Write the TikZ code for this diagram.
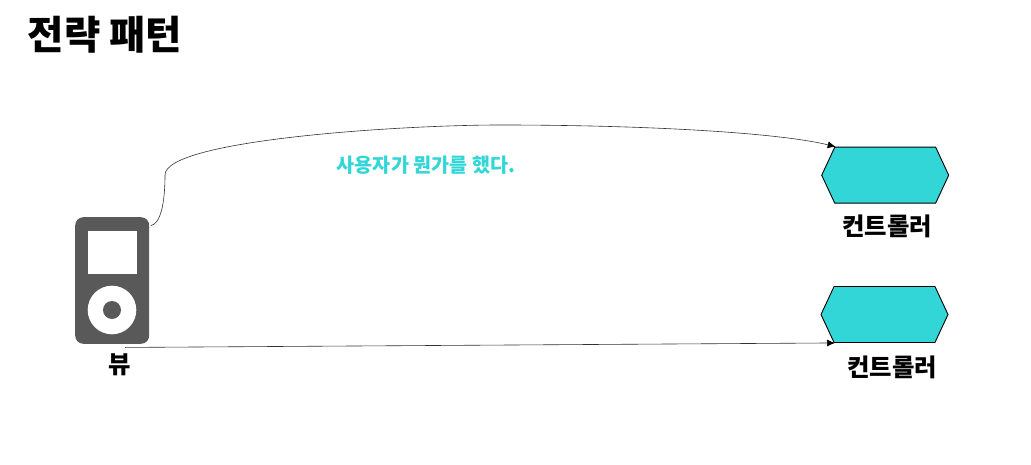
\documentclass[tikz,border=0pt]{standalone}
\usepackage{fontspec}
\setmainfont{Noto Sans CJK KR}
\usetikzlibrary{arrows.meta,shapes,shapes.symbols,positioning}
\definecolor{hexcyan}{HTML}{33D6D6}
\definecolor{playergray}{HTML}{595959}
\begin{document}
\begin{tikzpicture}[x=1pt,y=-1pt]
      \tikzstyle{controller}=[draw=black,line width=0.9pt,fill=hexcyan,signal,signal to=west and east,signal pointer angle=130,minimum width=127pt,minimum height=56pt,inner sep=0pt]
      \tikzstyle{caption}=[font=\bfseries\fontsize{24.4}{28}\selectfont,text=black]
      \tikzstyle{call}=[-{Latex[length=8pt,width=7pt,color=black]},black!80,line width=0.6pt]

      \useasboundingbox (0,0) rectangle (1031,465);

      \node (title) at (105,35) [font=\bfseries\fontsize{39.5}{44}\selectfont] {전략 패턴};

      % player
      \node (view) at (112.2,280.5) [fill=playergray,rounded corners=8pt,minimum width=74pt,minimum height=126.5pt,inner sep=0pt] {};
      \node (screen) at (112,252.2) [fill=white,minimum width=49pt,minimum height=43pt,inner sep=0pt] {};
      \node (wheel) at (112,310) [circle,fill=white,minimum size=48.6pt,inner sep=0pt] {};
      \node (hole) at (112,310) [circle,fill=playergray,minimum size=18pt,inner sep=0pt] {};
      \node (viewlabel) at (119.5,365) [caption] {뷰};

      \node (ctrl1) at (885.2,175.2) [controller] {};
      \node (ctrl1label) at (887,226) [caption] {컨트롤러};

      \node (ctrl2) at (884.5,314.5) [controller] {};
      \node (ctrl2label) at (892,367) [caption] {컨트롤러};

      \node (note) at (426,165) [font=\bfseries\fontsize{19.6}{23}\selectfont,text=hexcyan] {사용자가 뭔가를 했다.};

      \coordinate (viewtop) at ([xshift=1.5pt,yshift=-8.5pt]view.north east);
      \coordinate (viewbottom) at ([xshift=13pt,yshift=-3.5pt]view.south);
      \coordinate (ctrl1top) at ([xshift=-49.5pt]ctrl1.north);
      \coordinate (ctrl2low) at ([xshift=-49.5pt]ctrl2.south);
      \draw[call] (viewtop) .. controls (160,224) and (165,205) .. (165,175) .. controls (165,140) and (400,125) .. (500,125) .. controls (650,125) and (780,133) .. (ctrl1top);
      \draw[call] (viewbottom) -- (ctrl2low);
    \end{tikzpicture}
\end{document}
